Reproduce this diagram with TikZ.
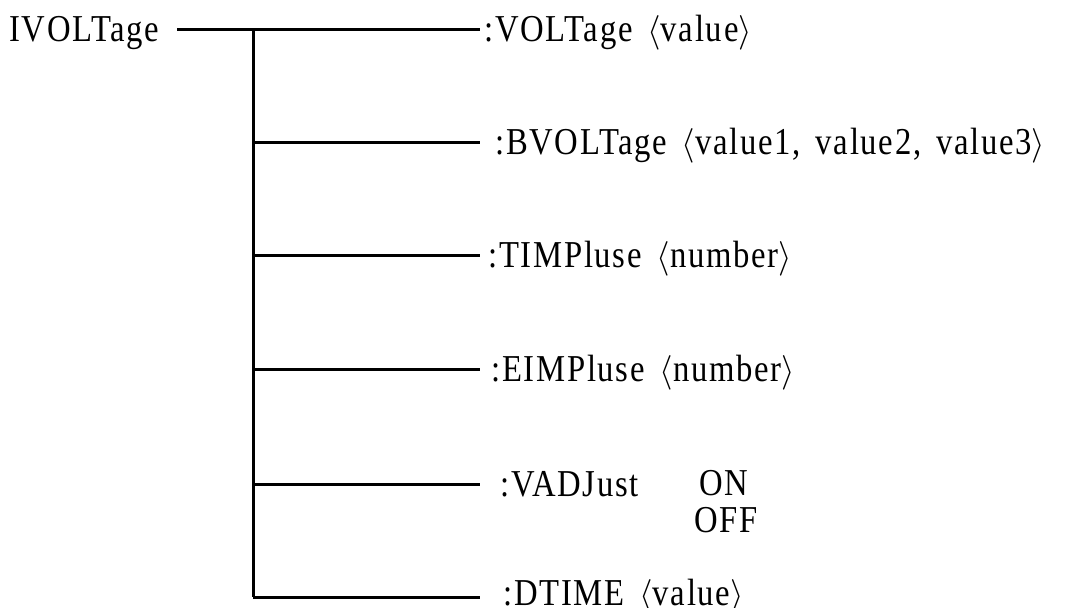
\documentclass[tikz,border=0pt]{standalone}
\usepackage{fontspec}
\newfontfamily\cmdfont[FakeStretch=0.86,LetterSpace=4.5,WordSpace=1.5]{Liberation Serif}
\usetikzlibrary{positioning,calc}

\begin{document}
\begin{tikzpicture}[x=5pt,y=-5pt,
  cmd/.style={anchor=base west,inner sep=0pt,font=\cmdfont\fontsize{19}{23}\selectfont},
  wire/.style={line width=1.5pt}]
\useasboundingbox (0,0) rectangle (109,60.8);

\node[cmd] (IV) at (0.9,4.2) {IVOLTage};

% trunk points and line ends
\coordinate (R) at (17.7,3);
\coordinate (T1) at (25.3,3);      \coordinate (E1) at (48,3);
\coordinate (T2) at (25.3,14.3);   \coordinate (E2) at (48,14.3);
\coordinate (T3) at (25.3,25.6);   \coordinate (E3) at (48,25.6);
\coordinate (T4) at (25.3,37);     \coordinate (E4) at (48,37);
\coordinate (T5) at (25.3,48.4);   \coordinate (E5) at (48,48.4);
\coordinate (T6) at (25.3,59.7);   \coordinate (E6) at (48,59.7);

\draw[wire] (R) -- (E1);
\draw[wire] (T1) -- (T6);
\foreach \i in {2,...,6}
  \draw[wire] (T\i) -- (E\i);

\node[cmd] (VOLT) at ($(E1)+(0.4,1.2)$) {:VOLTage \(\langle\)value\(\rangle\)};
\node[cmd] (BVOLT) at ($(E2)+(1.5,1.2)$) {:BVOLTage \(\langle\)value1, value2, value3\(\rangle\)};
\node[cmd] (TIMP) at ($(E3)+(0.8,1.2)$) {:TIMPluse \(\langle\)number\(\rangle\)};
\node[cmd] (EIMP) at ($(E4)+(1.1,1.2)$) {:EIMPluse \(\langle\)number\(\rangle\)};
\node[cmd] (VADJ) at ($(E5)+(2,1.2)$) {:VADJust};
\node[cmd,anchor=base] (ON) at (72.4,49.5) {ON};
\node[cmd,anchor=base] (OFF) at (72.6,53.2) {OFF};
\node[cmd] (DTIME) at ($(E6)+(2.3,0.8)$) {:DTIME \(\langle\)value\(\rangle\)};
\end{tikzpicture}
\end{document}
